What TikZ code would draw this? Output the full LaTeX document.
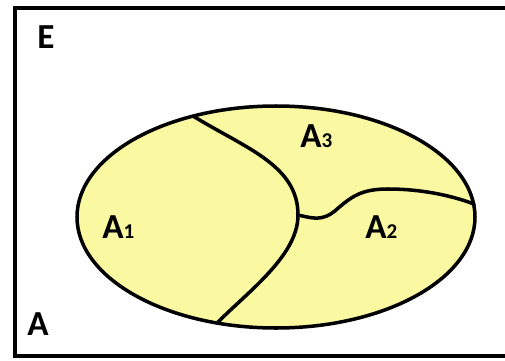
\documentclass[tikz,border=0pt]{standalone}
\usepackage{fontspec}
\setmainfont{Carlito}
\usetikzlibrary{calc}
\definecolor{setfill}{RGB}{250,248,160}
\tikzset{
  px/.style={x=0.02cm, y=0.02cm},
  frame/.style={line width=2.8pt},
  setline/.style={line width=2pt, line cap=round, line join=round},
  lbl/.style={anchor=base west, inner sep=0pt, font=\fontsize{20}{22}\selectfont\bfseries},
}
\newcommand\sub[1]{{\fontsize{12}{14}\selectfont #1}}

\begin{document}
\begin{tikzpicture}[px]
  \useasboundingbox (0,0) rectangle (505,360);
  \clip (0,0) rectangle (505,360);
  % sample space
  \draw[frame] (15,4) rectangle (520,352);
  % set A and its partition
  \filldraw[setline, fill=setfill] (276,143) ellipse [x radius=199, y radius=111];
  \coordinate (top) at (193,244);
  \coordinate (mid) at (298,145);
  \coordinate (bot) at (217,37);
  \coordinate (rgt) at (474,156);
  \draw[setline] (top) .. controls (245,212) and (298,195) .. (mid)
                 .. controls (298,105) and (250,70) .. (bot);
  \draw[setline] (mid) .. controls (312,142) and (322,138) .. (336,150)
                 .. controls (352,164) and (362,171) .. (388,171)
                 .. controls (420,171) and (450,165) .. (rgt);
  % labels
  \node[lbl] (lblE) at (37,312) {E};
  \node[lbl] (lblA) at (27,25) {A};
  \node[lbl] (a1) at (102,122) {A\sub{1}};
  \node[lbl] (a3) at (300,213) {A\sub{3}};
  \node[lbl] (a2) at (365,122) {A\sub{2}};
\end{tikzpicture}
\end{document}
